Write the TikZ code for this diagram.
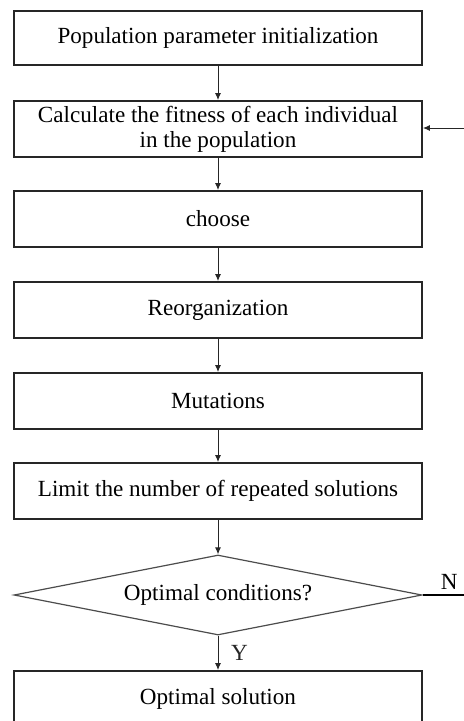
\documentclass[tikz,border=0pt]{standalone}
\usepackage{fontspec}
\setmainfont{Liberation Serif}
\usepackage{tikz}
\usetikzlibrary{shapes.geometric, arrows.meta}
\tikzset{procbox/.style={draw=black!85, line width = 0.9bp, rectangle, minimum width = 204bp, minimum height = 28bp, inner sep = 0pt, align = center, font = \fontsize{11.6}{12.5}\selectfont}}
\tikzset{decbox/.style={draw=black!70, line width = 0.6bp, diamond, aspect = 5.1, minimum width = 204bp, minimum height = 40bp, inner sep = 0pt, font = \fontsize{11.6}{12.5}\selectfont}}
\tikzset{flowarrow/.style={-{Latex[length=3.5bp, width=3bp]}, line width = 0.5bp, black!85}}

\begin{document}
\begin{tikzpicture}[x=0.5bp, y=-0.5bp]
    \useasboundingbox (0, 0) rectangle (464, 721);

    \node[procbox, minimum height = 27bp] (init) at (218, 38)  {Population parameter initialization};
    \node[procbox] (fit)    at (218, 129)  {Calculate the fitness of each individual\\in the population};
    \node[procbox] (sel)    at (218, 219)  {choose};
    \node[procbox] (reorg)  at (218, 310)  {Reorganization};
    \node[procbox] (mut)    at (218, 401)  {Mutations};
    \node[procbox] (lim)    at (218, 491)  {Limit the number of repeated solutions};
    \node[decbox]  (cond)   at (218, 595)  {Optimal conditions?};
    \node[procbox] (opt)    at (218, 699)  {Optimal solution};

    \coordinate (nend)  at (464, 595);
    \coordinate (back)  at (464, 128);

    \draw[flowarrow] (init) -- (fit);
    \draw[flowarrow] (fit) -- (sel);
    \draw[flowarrow] (sel) -- (reorg);
    \draw[flowarrow] (reorg) -- (mut);
    \draw[flowarrow] (mut) -- (lim);
    \draw[flowarrow] (lim) -- (cond);
    \draw[flowarrow] (cond) -- node[right, xshift = 3bp, font = \fontsize{11.6}{12.5}\selectfont] {Y} (opt);
    \draw[line width = 0.6bp] (cond.east) -- node[above, xshift = 3bp, yshift = -1bp, font = \fontsize{11.6}{12.5}\selectfont] {N} (nend);
    \draw[flowarrow] (back) -- (fit.east |- back);

\end{tikzpicture}
\end{document}
